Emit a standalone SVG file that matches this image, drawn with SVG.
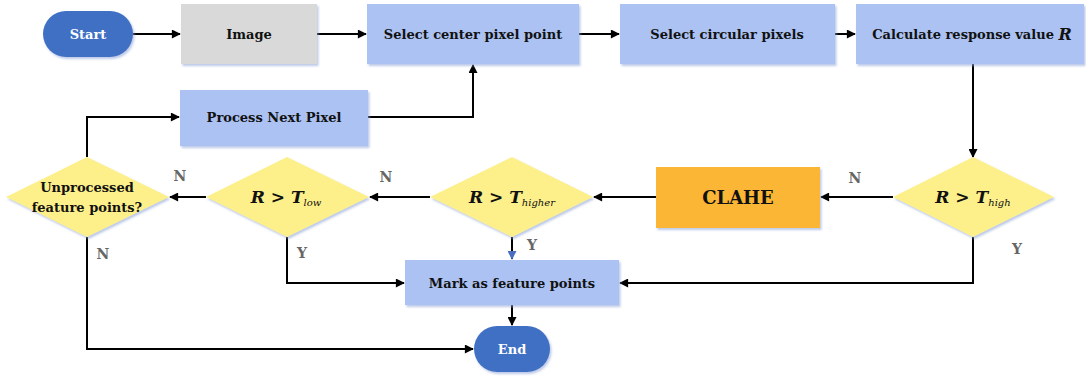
<svg xmlns="http://www.w3.org/2000/svg" width="1086" height="381" viewBox="0 0 1086 381">
<style>
text{font-family:"DejaVu Serif","Liberation Serif",serif;font-weight:bold;font-size:13px;fill:#111;text-anchor:middle;dominant-baseline:central}
.w{fill:#fff}
.lbl{fill:#666;font-size:14px}
.blue{fill:#abc2f2}
.term{fill:#4170c4}
.dia{fill:#fdf08a}
.ln{fill:none;stroke:#000;stroke-width:2}
.math{font-style:italic;font-size:17px}
.sub{font-style:italic;font-weight:normal;font-size:10px}
.big{font-size:18px}
.ri{font-style:italic;font-size:16px}
</style>
<defs>
<marker id="ah" viewBox="0 0 10 10" refX="9" refY="5" markerWidth="10" markerHeight="9" orient="auto" markerUnits="userSpaceOnUse">
<path d="M0,0 L10,5 L0,10 z" fill="#000"/>
</marker>
<marker id="ahb" viewBox="0 0 10 10" refX="9" refY="5" markerWidth="10" markerHeight="9" orient="auto" markerUnits="userSpaceOnUse">
<path d="M0,0 L10,5 L0,10 z" fill="#4a6fc0"/>
</marker>
<filter id="sh" x="-10%" y="-10%" width="125%" height="130%">
<feDropShadow dx="1.5" dy="2" stdDeviation="1.2" flood-color="#8fa6d8" flood-opacity="0.6"/>
</filter>
</defs>

<g id="connectors">
<path class="ln" d="M133,34 H180" marker-end="url(#ah)"/>
<path class="ln" d="M317,34 H366" marker-end="url(#ah)"/>
<path class="ln" d="M579,34 H619" marker-end="url(#ah)"/>
<path class="ln" d="M835,34 H855" marker-end="url(#ah)"/>
<path class="ln" d="M973,64 V157" marker-end="url(#ah)"/>
<path class="ln" d="M893,197 H821" marker-end="url(#ah)"/>
<path class="ln" d="M656,197 H594" marker-end="url(#ah)"/>
<path class="ln" d="M430,197 H370" marker-end="url(#ah)"/>
<path class="ln" d="M206,197 H170" marker-end="url(#ah)"/>
<path class="ln" d="M87,157 V117 H179" marker-end="url(#ah)"/>
<path class="ln" d="M368,117 H473 V65" marker-end="url(#ah)"/>
<path class="ln" d="M87,237 V349 H473" marker-end="url(#ah)"/>
<path class="ln" d="M287,237 V283 H404" marker-end="url(#ah)"/>
<path class="ln" d="M973,237 V283 H620" marker-end="url(#ah)"/>
<path class="ln" d="M512,237 V259" marker-end="url(#ahb)"/>
<path class="ln" d="M512,305 V325" marker-end="url(#ah)"/>
<text class="lbl" x="855" y="178">N</text>
<text class="lbl" x="386" y="177">N</text>
<text class="lbl" x="180" y="176">N</text>
<text class="lbl" x="103" y="254">N</text>
<text class="lbl" x="302" y="253">Y</text>
<text class="lbl" x="532" y="245">Y</text>
<text class="lbl" x="1017" y="249">Y</text>
</g>

<g id="start">
<rect x="43" y="11" width="90" height="46" rx="23" class="term" filter="url(#sh)"/>
<text class="w" x="88" y="34">Start</text>
</g>
<g id="image">
<rect x="181" y="4" width="136" height="60" fill="#d9d9d9" filter="url(#sh)"/>
<text x="249" y="34">Image</text>
</g>
<g id="select-center">
<rect x="367" y="4" width="212" height="60" class="blue" filter="url(#sh)"/>
<text x="473" y="34">Select center pixel point</text>
</g>
<g id="select-circular">
<rect x="620" y="4" width="215" height="60" class="blue" filter="url(#sh)"/>
<text x="727" y="34">Select circular pixels</text>
</g>
<g id="calculate">
<rect x="856" y="4" width="228" height="60" class="blue" filter="url(#sh)"/>
<text x="972" y="34">Calculate response value <tspan class="ri">R</tspan></text>
</g>
<g id="process-next">
<rect x="180" y="90" width="188" height="56" class="blue" filter="url(#sh)"/>
<text x="274" y="117">Process Next Pixel</text>
</g>
<g id="cond-high">
<polygon points="973,157 1054,197 973,237 893,197" class="dia" filter="url(#sh)"/>
<text class="math" x="973" y="197">R &gt; T<tspan class="sub" dy="5">high</tspan></text>
</g>
<g id="clahe">
<rect x="656" y="167" width="164" height="61" fill="#fbb634" filter="url(#sh)"/>
<text class="big" x="738" y="197">CLAHE</text>
</g>
<g id="cond-higher">
<polygon points="512,157 593,197 512,237 430,197" class="dia" filter="url(#sh)"/>
<text class="math" x="512" y="197">R &gt; T<tspan class="sub" dy="5">higher</tspan></text>
</g>
<g id="cond-low">
<polygon points="287,157 369,197 287,237 206,197" class="dia" filter="url(#sh)"/>
<text class="math" x="286" y="197">R &gt; T<tspan class="sub" dy="5">low</tspan></text>
</g>
<g id="unprocessed">
<polygon points="87,157 169,197 87,237 6,197" class="dia" filter="url(#sh)"/>
<text x="87" y="187">Unprocessed</text>
<text x="87" y="207">feature points?</text>
</g>
<g id="mark">
<rect x="405" y="260" width="214" height="45" class="blue" filter="url(#sh)"/>
<text x="512" y="283">Mark as feature points</text>
</g>
<g id="end">
<rect x="474" y="326" width="76" height="46" rx="23" class="term" filter="url(#sh)"/>
<text class="w" x="512" y="349">End</text>
</g>
</svg>
